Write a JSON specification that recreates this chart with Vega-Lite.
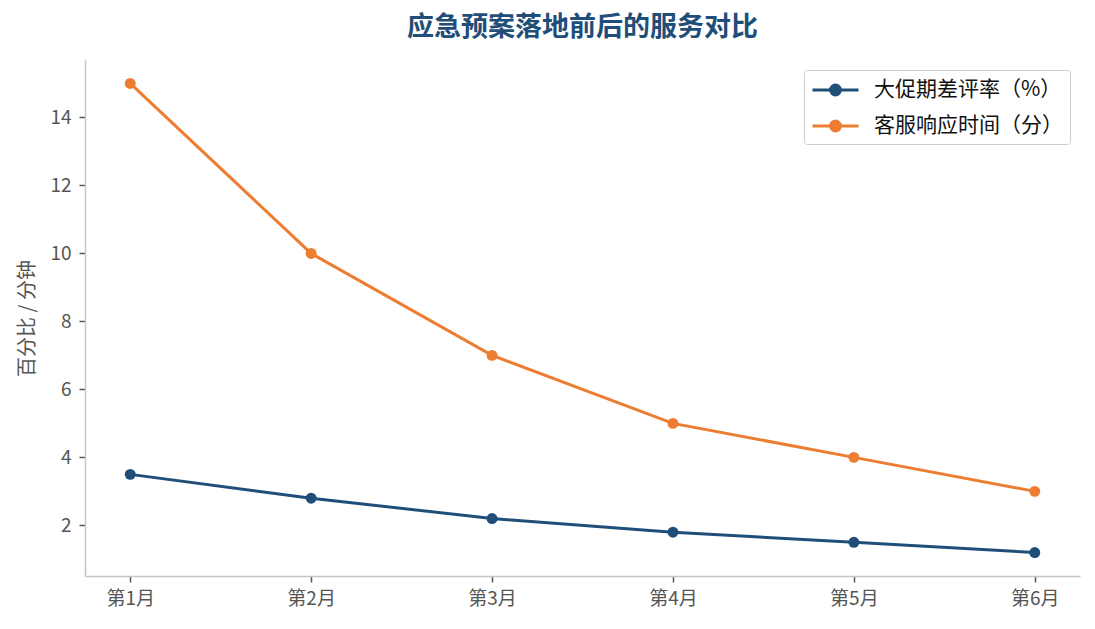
{
  "$schema": "https://vega.github.io/schema/vega-lite/v6.json",
  "autosize": "none",
  "width": 995,
  "height": 516,
  "padding": {"left": 85, "top": 60, "right": 15, "bottom": 53},
  "background": "white",
  "title": {
    "text": "应急预案落地前后的服务对比",
    "font": "Noto Sans CJK SC",
    "fontSize": 27,
    "fontWeight": "bold",
    "color": "#1f4e79",
    "anchor": "middle",
    "offset": 18
  },
  "data": {
    "values": [
      {"month": "第1月", "series": "大促期差评率（%）", "value": 3.5},
      {"month": "第2月", "series": "大促期差评率（%）", "value": 2.8},
      {"month": "第3月", "series": "大促期差评率（%）", "value": 2.2},
      {"month": "第4月", "series": "大促期差评率（%）", "value": 1.8},
      {"month": "第5月", "series": "大促期差评率（%）", "value": 1.5},
      {"month": "第6月", "series": "大促期差评率（%）", "value": 1.2},
      {"month": "第1月", "series": "客服响应时间（分）", "value": 15},
      {"month": "第2月", "series": "客服响应时间（分）", "value": 10},
      {"month": "第3月", "series": "客服响应时间（分）", "value": 7},
      {"month": "第4月", "series": "客服响应时间（分）", "value": 5},
      {"month": "第5月", "series": "客服响应时间（分）", "value": 4},
      {"month": "第6月", "series": "客服响应时间（分）", "value": 3}
    ]
  },
  "mark": {
    "type": "line",
    "strokeWidth": 3,
    "point": {"filled": true, "size": 120}
  },
  "encoding": {
    "x": {
      "field": "month",
      "type": "ordinal",
      "sort": null,
      "scale": {"type": "point", "padding": 0.25},
      "axis": {"title": null, "labelAngle": 0, "labelPadding": 7}
    },
    "y": {
      "field": "value",
      "type": "quantitative",
      "scale": {"domain": [0.51, 15.69], "nice": false, "zero": false},
      "axis": {"title": "百分比 / 分钟", "values": [2, 4, 6, 8, 10, 12, 14], "titlePadding": 12, "labelPadding": 8}
    },
    "color": {
      "field": "series",
      "type": "nominal",
      "sort": null,
      "scale": {"domain": ["大促期差评率（%）", "客服响应时间（分）"], "range": ["#1f4e79", "#ed7d31"]},
      "legend": {
        "title": null,
        "orient": "top-right",
        "offset": 10,
        "padding": 7,
        "strokeColor": "#cccccc",
        "fillColor": "white",
        "cornerRadius": 3,
        "symbolType": "M-1,0H3M1.43,0A0.43,0.43 0 1,1 0.57,0A0.43,0.43 0 1,1 1.43,0Z",
        "symbolSize": 529,
        "symbolStrokeWidth": 3,
        "labelFont": "Noto Sans CJK SC",
        "labelFontSize": 21,
        "labelColor": "#111111",
        "labelOffset": 37,
        "labelLimit": 400,
        "rowPadding": 12,
        "encode": {
          "symbols": {
            "update": {
              "fill": {"scale": "color", "field": "value"},
              "stroke": {"scale": "color", "field": "value"}
            }
          }
        }
      }
    }
  },
  "config": {
    "view": {"stroke": null},
    "font": "Noto Sans CJK SC",
    "axis": {
      "grid": false,
      "domainColor": "#c4c4c4",
      "domainWidth": 1.5,
      "tickColor": "#555555",
      "tickSize": 6,
      "tickWidth": 1.5,
      "labelFont": "Noto Sans CJK SC",
      "labelFontSize": 19,
      "labelColor": "#555555",
      "titleFont": "Noto Sans CJK SC",
      "titleFontSize": 20,
      "titleFontWeight": "normal",
      "titleColor": "#555555"
    }
  }
}
